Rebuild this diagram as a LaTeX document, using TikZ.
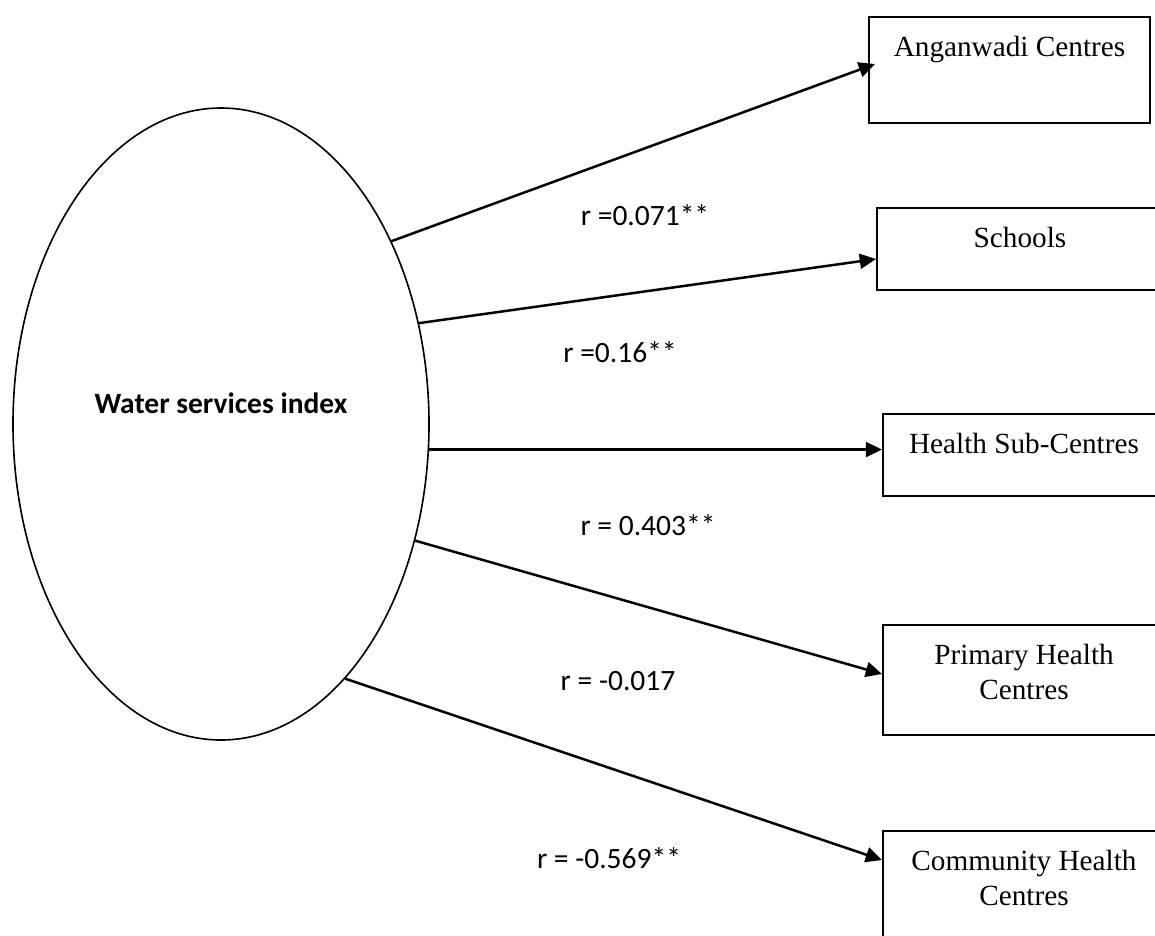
\documentclass[tikz,border=0pt]{standalone}
\usepackage{fontspec}
\setmainfont{Liberation Serif}
\newfontfamily\carlito{Carlito}
\usepackage{tikz}
\usetikzlibrary{positioning, shapes.geometric, arrows.meta}

\begin{document}
\begin{tikzpicture}[
    x=0.4pt, y=-0.4pt,
    hub/.style={
        ellipse,
        draw,
        line width=0.65pt,
        inner sep=0pt,
        minimum width=166.4pt,
        minimum height=252.8pt,
        font=\carlito\fontsize{11.8pt}{14pt}\selectfont\bfseries,
        text height=8pt,
        text depth=16.8pt,
    },
    target/.style={
        rectangle,
        draw,
        line width=0.8pt,
        anchor=north west,
        inner xsep=0pt,
        inner ysep=0pt,
        align=center,
        font=\fontsize{11.7pt}{14pt}\selectfont,
        text height=15.6pt,
    },
    flat/.style={target, minimum width=112.8pt, text depth=17.2pt},
    tall/.style={target, minimum width=112.8pt, text height=29.6pt, text depth=14.4pt},
    rel/.style={-{Triangle[length=6.5pt, width=6pt]}, line width=1pt},
    coef/.style={font=\carlito\fontsize{11.8pt}{14pt}\selectfont, inner sep=0pt},
]
\useasboundingbox (0,0) rectangle (1155,935);
\clip (0,0) rectangle (1155,935);

\node[hub] (index) at (221,424) {Water services index};

\node[target, minimum width=112.4pt, text depth=26.8pt] (anganwadi) at (868,16) {Anganwadi Centres};
\node[flat, minimum width=114.4pt] (schools)   at (876,207) {Schools};
\node[flat]                        (subcentre) at (882,413) {Health Sub-Centres};
\node[tall]                        (phc)       at (882,624) {Primary Health\\Centres};
\node[tall]                        (chc)       at (882,830) {Community Health\\Centres};

\node[coef] (r1) at (645,215) {r =0.071**};
\node[coef] (r2) at (620,352) {r =0.16**};
\node[coef] (r3) at (648,525) {r = 0.403**};
\node[coef] (r4) at (618,681) {r = -0.017};
\node[coef] (r5) at (609,858) {r = -0.569**};

\draw[rel] (index.47)    -- ([xshift=2.8pt, yshift=2.4pt]anganwadi.west);
\draw[rel] (index.27.3)  -- ([yshift=-4pt]schools.west);
\draw[rel] (index.-7.6)  -- (index.-7.6 -| subcentre.west);
\draw[rel] (index.-31)   -- ([yshift=2.4pt]phc.west);
\draw[rel] (index.-64.8) -- ([yshift=10.4pt]chc.west);

\end{tikzpicture}
\end{document}
